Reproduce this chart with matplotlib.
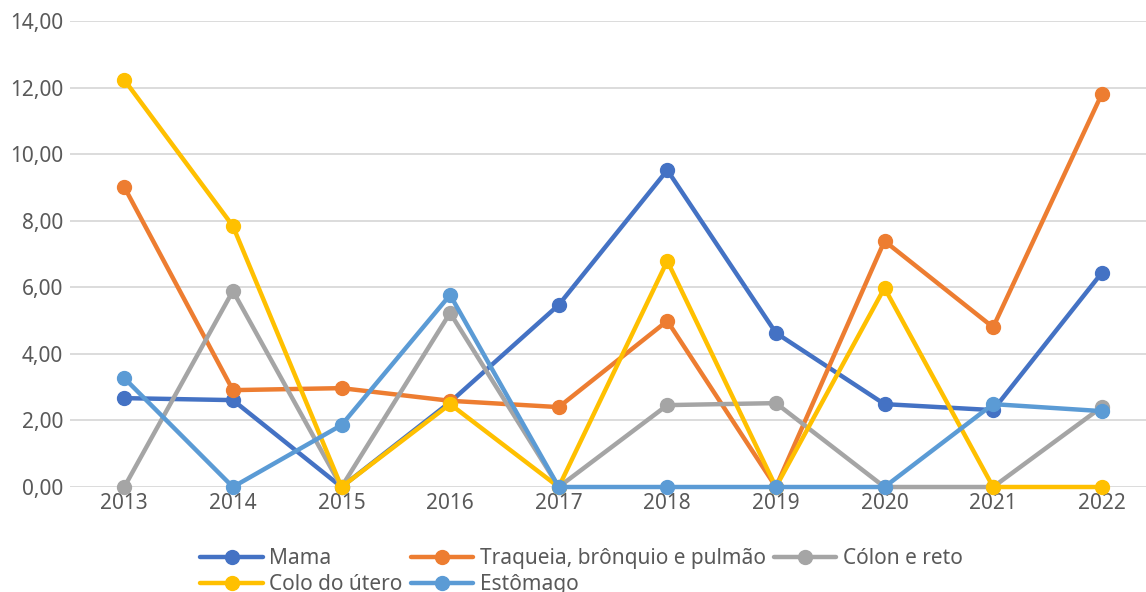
import matplotlib.pyplot as plt
from matplotlib.ticker import FuncFormatter

plt.rcParams['font.family'] = ['Noto Sans', 'DejaVu Sans']

anos = ['2013', '2014', '2015', '2016', '2017', '2018', '2019', '2020', '2021', '2022']
mama = [2.67, 2.61, 0.00, 2.55, 5.47, 9.52, 4.63, 2.49, 2.31, 6.43]
traqueia = [9.01, 2.91, 2.97, 2.59, 2.40, 4.99, 0.00, 7.39, 4.80, 11.80]
colon = [0.00, 5.89, 0.00, 5.23, 0.00, 2.46, 2.52, 0.00, 0.00, 2.40]
colo_utero = [12.23, 7.84, 0.00, 2.49, 0.00, 6.79, 0.00, 5.98, 0.00, 0.00]
estomago = [3.27, 0.00, 1.86, 5.77, 0.00, 0.00, 0.00, 0.00, 2.49, 2.28]

series = [
    ('Mama', mama, '#4472C4'),
    ('Traqueia, brônquio e pulmão', traqueia, '#ED7D31'),
    ('Cólon e reto', colon, '#A5A5A5'),
    ('Colo do útero', colo_utero, '#FFC000'),
    ('Estômago', estomago, '#5B9BD5'),
]

fig = plt.figure(figsize=(11.46, 5.92), dpi=100)
ax = fig.add_axes([70 / 1146, 105 / 592, 1086 / 1146, 466 / 592])

x = list(range(len(anos)))
handles = {}
for nome, vals, cor in series:
    h, = ax.plot(x, vals, color=cor, lw=3.2, marker='o', markersize=10,
                 solid_capstyle='round', label=nome, clip_on=False)
    handles[nome] = h

ax.set_xlim(-0.5, len(anos) - 0.5)
ax.set_ylim(0, 14)
ax.set_yticks([0, 2, 4, 6, 8, 10, 12, 14])
ax.yaxis.set_major_formatter(FuncFormatter(lambda v, p: f'{v:.2f}'.replace('.', ',')))
ax.set_xticks(x)
ax.set_xticklabels(anos)
ax.grid(axis='y', color='#D9D9D9', lw=1.3)
ax.set_axisbelow(True)
for s in ax.spines.values():
    s.set_visible(False)
ax.tick_params(length=0, labelsize=15, colors='#595959', pad=4)
ax.tick_params(axis='y', pad=5)

ordem = ['Mama', 'Colo do útero', 'Traqueia, brônquio e pulmão', 'Estômago', 'Cólon e reto']
fig.legend([handles[n] for n in ordem], ordem, ncol=3, loc='upper left',
           bbox_to_anchor=(192 / 1146, 1 - 540 / 592), frameon=False,
           fontsize=15, handlelength=3.0, handletextpad=0.3, columnspacing=0.4,
           labelspacing=0.22, borderaxespad=0, labelcolor='#595959')

fig.savefig('out.png', dpi=100)
